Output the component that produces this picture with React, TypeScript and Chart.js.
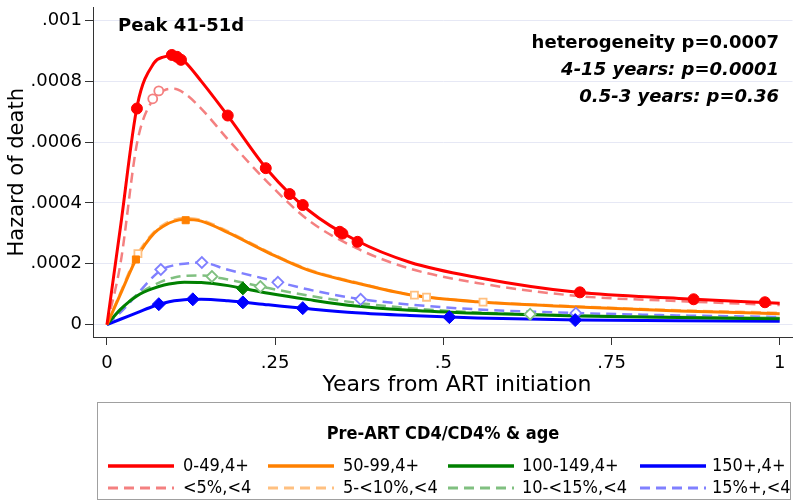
import React, { useEffect, useRef } from "react";
import { Chart, registerables } from "chart.js";

Chart.register(...registerables);

// ---- data ----
const xGrid = [0, 0.02, 0.045, 0.07, 0.085, 0.1, 0.115, 0.14, 0.18, 0.24, 0.3, 0.37, 0.45, 0.55, 0.7, 0.85, 1.0];

const red = [0, 0.00032, 0.00072, 0.00086, 0.00088, 0.000885, 0.000865, 0.0008, 0.000685, 0.000505, 0.000375, 0.000277, 0.000205, 0.000155, 0.000106, 0.000086, 0.00007];
const redDash = [0, 0.0002, 0.0006, 0.000745, 0.00077, 0.000775, 0.00076, 0.00071, 0.000608, 0.000465, 0.000342, 0.000252, 0.000184, 0.000137, 0.000094, 0.000077, 0.000064];
const orange = [0, 0.0001, 0.000222, 0.0003, 0.000325, 0.00034, 0.000345, 0.00034, 0.000302, 0.000236, 0.000178, 0.000137, 0.000098, 0.000075, 0.000058, 0.000045, 0.000036];
const orangeDash = [0, 0.000105, 0.00023, 0.000305, 0.00033, 0.000345, 0.00035, 0.000344, 0.000306, 0.000239, 0.000181, 0.000139, 0.000099, 0.000076, 0.00006, 0.000047, 0.000039];
const green = [0, 0.00005, 0.000095, 0.00012, 0.00013, 0.000136, 0.000139, 0.000138, 0.000128, 0.000103, 0.000082, 0.000061, 0.000047, 0.000037, 0.000028, 0.000023, 0.000019];
const greenDash = [0, 0.00005, 0.000098, 0.00013, 0.000145, 0.000155, 0.00016, 0.000161, 0.000148, 0.00012, 0.000095, 0.000072, 0.000054, 0.00004, 0.00003, 0.000025, 0.000022];
const blue = [0, 0.0000175, 0.000039, 0.000061, 0.000071, 0.000078, 0.000082, 0.000083, 0.000078, 0.000065, 0.000052, 0.000039, 0.00003, 0.000022, 0.000015, 0.000013, 0.000011];
const blueDash = [0, 0.00004, 0.0001, 0.00016, 0.000185, 0.000195, 0.0002, 0.000204, 0.00018, 0.000148, 0.000115, 0.000086, 0.000066, 0.00005, 0.000038, 0.00003, 0.000025];

const redMarkX = [0.0445, 0.0964, 0.104, 0.11, 0.1795, 0.236, 0.2715, 0.291, 0.346, 0.35, 0.3724, 0.703, 0.872, 0.978];
const redMarkY = [0.00071, 0.000886, 0.00088, 0.00087, 0.000687, 0.000514, 0.000429, 0.000393, 0.000305, 0.000299, 0.000272, 0.000106, 0.0000832, 0.0000734];
const redDashMarkX = [0.068, 0.077];
const redDashMarkY = [0.000742, 0.000768];
const orangeMarkX = [0.043, 0.117];
const orangeMarkY = [0.000214, 0.000343];
const orangeDashMarkX = [0.046, 0.457, 0.475, 0.559];
const orangeDashMarkY = [0.000233, 0.000097, 0.00009, 0.000074];
const greenMarkX = [0.202];
const greenMarkY = [0.000119];
const greenDashMarkX = [0.156, 0.228, 0.629];
const greenDashMarkY = [0.000158, 0.000125, 0.000034];
const blueMarkX = [0.077, 0.1276, 0.202, 0.291, 0.509, 0.696];
const blueMarkY = [0.000067, 0.000083, 0.000073, 0.000054, 0.0000245, 0.0000147];
const blueDashMarkX = [0.08, 0.141, 0.254, 0.377, 0.697];
const blueDashMarkY = [0.000181, 0.000204, 0.000139, 0.000083, 0.0000375];

const seriesLabels = ["0-49,4+", "50-99,4+", "100-149,4+", "150+,4+", "<5%,<4", "5-<10%,<4", "10-<15%,<4", "15%+,<4"];

const xTickValues = [0, 0.25, 0.5, 0.75, 1];
const xTickLabels = ["0", ".25", ".5", ".75", "1"];
const yTickValues = [0, 0.0002, 0.0004, 0.0006, 0.0008, 0.001];
const yTickLabels = ["0", ".0002", ".0004", ".0006", ".0008", ".001"];

const titleText = "Peak 41-51d";
const noteLines = ["heterogeneity p=0.0007", "4-15 years: p=0.0001", "0.5-3 years: p=0.36"];
const legendTitle = "Pre-ART CD4/CD4% & age";
const xTitle = "Years from ART initiation";
const yTitle = "Hazard of death";

// ---- styles ----
const FONT = "'DejaVu Sans', sans-serif";
const LFONT = "'DejaVu Sans Condensed', 'DejaVu Sans', sans-serif";
const seriesDefs = [
  { values: red, mx: redMarkX, my: redMarkY, color: "#ff0000", dash: false, style: "circle", r: 5.5, hollow: false },
  { values: orange, mx: orangeMarkX, my: orangeMarkY, color: "#ff8000", dash: false, style: "rect", r: 5, hollow: false },
  { values: green, mx: greenMarkX, my: greenMarkY, color: "#008000", dash: false, style: "rectRot", r: 6.5, hollow: false },
  { values: blue, mx: blueMarkX, my: blueMarkY, color: "#0000ff", dash: false, style: "rectRot", r: 6.5, hollow: false },
  { values: redDash, mx: redDashMarkX, my: redDashMarkY, color: "#f48080", dash: true, style: "circle", r: 4.5, hollow: true },
  { values: orangeDash, mx: orangeDashMarkX, my: orangeDashMarkY, color: "#ffc080", dash: true, style: "rect", r: 5, hollow: true },
  { values: greenDash, mx: greenDashMarkX, my: greenDashMarkY, color: "#80c080", dash: true, style: "rectRot", r: 5.5, hollow: true },
  { values: blueDash, mx: blueDashMarkX, my: blueDashMarkY, color: "#8080ff", dash: true, style: "rectRot", r: 5.5, hollow: true },
];

const DASH = [10, 6];

const overlayPlugin = {
  id: "overlay",
  afterDraw(chart: any) {
    const ctx = chart.ctx as CanvasRenderingContext2D;
    ctx.save();
    ctx.fillStyle = "#000";
    ctx.textBaseline = "middle";
    ctx.font = `bold 18px ${FONT}`;
    ctx.textAlign = "left";
    ctx.fillText(titleText, 118, 26);
    ctx.textAlign = "right";
    ctx.font = `bold 18px ${FONT}`;
    ctx.fillText(noteLines[0], 779, 43);
    ctx.font = `italic bold 18px ${FONT}`;
    ctx.fillText(noteLines[1], 779, 70);
    ctx.fillText(noteLines[2], 779, 97);

    // x axis title
    ctx.textAlign = "center";
    ctx.font = `22px ${FONT}`;
    ctx.fillText(xTitle, 457, 385);

    // legend box
    ctx.strokeStyle = "#a0a0a0";
    ctx.lineWidth = 1;
    ctx.strokeRect(97.5, 402.5, 693, 97);
    ctx.textAlign = "center";
    ctx.font = `bold 18px ${LFONT}`;
    ctx.fillText(legendTitle, 443, 434);

    const lineX = [108, 268, 448, 640];
    const textX = [183, 343, 522, 712];
    const rowY = [466, 488];
    const curves = chart.data.datasets.filter((d: any) => d.isCurve);
    curves.forEach((d: any, i: number) => {
      const col = i % 4;
      const row = Math.floor(i / 4);
      const y = rowY[row];
      ctx.beginPath();
      ctx.strokeStyle = d.borderColor;
      ctx.lineWidth = d.borderWidth + 0.5;
      ctx.setLineDash(d.borderDash || []);
      ctx.moveTo(lineX[col], y);
      ctx.lineTo(lineX[col] + 66, y);
      ctx.stroke();
      ctx.setLineDash([]);
      ctx.textAlign = "left";
      ctx.font = `18px ${LFONT}`;
      ctx.fillStyle = "#000";
      ctx.fillText(d.label, textX[col], y);
    });
    ctx.restore();
  },
};

export default function App() {
  const ref = useRef<HTMLCanvasElement | null>(null);
  useEffect(() => {
    if (!ref.current) return;
    const curveSets = seriesDefs.map((s, i) => ({
      type: "line" as const,
      label: seriesLabels[i],
      isCurve: true,
      data: xGrid.map((x, j) => ({ x, y: s.values[j] })),
      borderColor: s.color,
      borderWidth: s.dash ? 2.5 : 3,
      borderDash: s.dash ? DASH : [],
      pointRadius: 0,
      cubicInterpolationMode: "monotone" as const,
      fill: false,
      order: i + 10,
    }));
    const markSets = seriesDefs.map((s, i) => ({
      type: "line" as const,
      label: seriesLabels[i] + " markers",
      isCurve: false,
      showLine: false,
      data: s.mx.map((x, j) => ({ x, y: s.my[j] })),
      pointStyle: s.style,
      pointRadius: s.r,
      pointBackgroundColor: s.hollow ? "#ffffff" : s.color,
      pointBorderColor: s.color,
      pointBorderWidth: s.hollow ? 1.8 : 1,
      order: i,
    }));
    const chart = new Chart(ref.current, {
      type: "line",
      data: { datasets: [...curveSets, ...markSets] as any },
      options: {
        animation: false,
        responsive: false,
        events: [],
        layout: { padding: { left: 0, top: 5, right: 6, bottom: 105 } },
        plugins: { legend: { display: false }, tooltip: { enabled: false } },
        scales: {
          x: {
            type: "linear",
            min: -0.0208,
            max: 1.019,
            afterFit: (s: any) => { s.height = 62; s.paddingLeft = 0; s.paddingRight = 0; },
            afterBuildTicks: (s: any) => { s.ticks = xTickValues.map((v) => ({ value: v })); },
            ticks: {
              callback: (v: any) => { const k = xTickValues.indexOf(Number(v)); return k >= 0 ? xTickLabels[k] : ""; },
              color: "#000",
              font: { family: FONT, size: 18 },
              padding: 8,
              maxRotation: 0,
              autoSkip: false,
            },
            grid: { drawOnChartArea: false, tickLength: 8, tickColor: "#333", tickWidth: 1 },
            border: { color: "#333", width: 1 },
            title: { display: false },
          },
          y: {
            type: "linear",
            min: -0.0000408,
            max: 0.001042,
            afterFit: (s: any) => { s.width = 93; s.paddingTop = 0; s.paddingBottom = 0; },
            afterBuildTicks: (s: any) => { s.ticks = yTickValues.map((v) => ({ value: v })); },
            ticks: {
              callback: (v: any) => { const k = yTickValues.findIndex((t) => Math.abs(t - Number(v)) < 1e-9); return k >= 0 ? yTickLabels[k] : ""; },
              color: "#000",
              font: { family: FONT, size: 18 },
              padding: 3,
              autoSkip: false,
            },
            grid: { color: "#e6e8f5", lineWidth: 1, tickLength: 8, tickColor: "#333" },
            border: { color: "#333", width: 1 },
            title: { display: true, text: yTitle, color: "#000", font: { family: FONT, size: 21 }, padding: { top: 5, bottom: 0 } },
          },
        },
      },
      plugins: [overlayPlugin],
    });
    return () => chart.destroy();
  }, []);
  return (
    <div style={{ position: "fixed", left: 0, top: 0, width: 800, height: 504, background: "#fff" }}>
      <canvas ref={ref} width={800} height={504} style={{ display: "block" }} />
    </div>
  );
}
